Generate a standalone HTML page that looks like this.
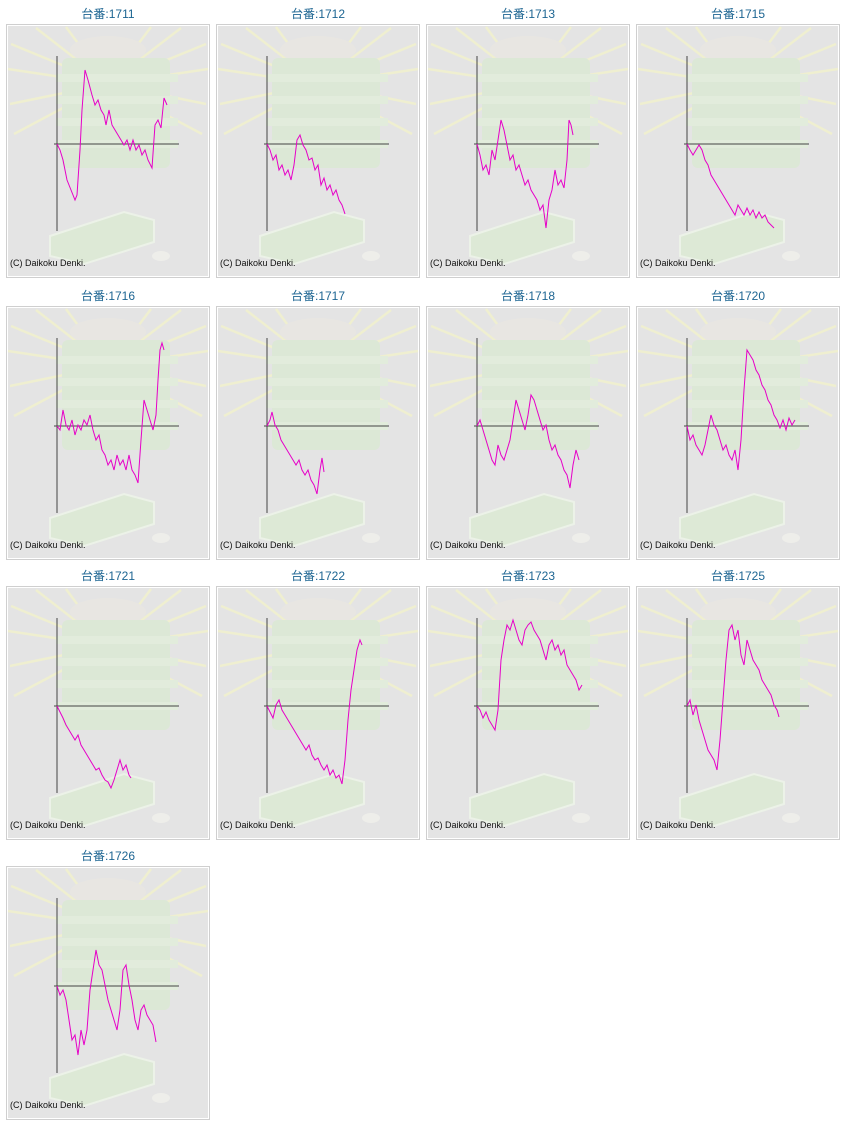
<!DOCTYPE html>
<html><head><meta charset="utf-8"><style>
body{margin:0;background:#fff;width:845px;height:1125px;overflow:hidden}
svg{position:absolute;left:0;top:0}
.t{font-family:"Liberation Sans","Noto Sans CJK JP",sans-serif;font-size:12px;fill:#1d6592}
.c{font-family:"Liberation Sans",sans-serif;font-size:9px;fill:#111}
polyline{fill:none;stroke:#e600c8;stroke-width:1}
</style></head><body>
<svg width="845" height="1125" viewBox="0 0 845 1125">
<defs>
<g id="bg">
<rect x="0.5" y="0.5" width="203" height="253" fill="#fff" stroke="#cfcfcf"/>
<rect x="2" y="2" width="200" height="250" fill="#e4e4e4"/>
<g stroke="#efefd0" stroke-width="2.5">
<line x1="102" y1="60" x2="5" y2="20"/><line x1="102" y1="60" x2="2" y2="45"/><line x1="102" y1="60" x2="4" y2="80"/>
<line x1="102" y1="60" x2="8" y2="110"/><line x1="102" y1="60" x2="30" y2="4"/><line x1="102" y1="60" x2="60" y2="3"/>
<line x1="102" y1="60" x2="200" y2="20"/><line x1="102" y1="60" x2="202" y2="45"/><line x1="102" y1="60" x2="200" y2="80"/>
<line x1="102" y1="60" x2="196" y2="110"/><line x1="102" y1="60" x2="175" y2="4"/><line x1="102" y1="60" x2="145" y2="3"/>
</g>
<ellipse cx="102" cy="26" rx="38" ry="14" fill="#e8e6e2"/>
<rect x="56" y="34" width="108" height="110" rx="6" fill="#dce8d6"/>
<g fill="#e2ecdc"><rect x="50" y="50" width="122" height="8"/><rect x="50" y="72" width="122" height="8"/><rect x="50" y="94" width="122" height="8"/><rect x="50" y="116" width="122" height="8"/></g>
<polygon points="44,212 118,188 148,196 148,218 78,240 44,232" fill="#dde9d6" stroke="#ecf2e8" stroke-width="2"/>
<ellipse cx="155" cy="232" rx="9" ry="5" fill="#eeeeea"/>
<line x1="51" y1="32" x2="51" y2="207" stroke="#444"/>
<line x1="48" y1="120" x2="173" y2="120" stroke="#444"/>
<text class="c" x="4" y="242">(C) Daikoku Denki.</text>
</g>
</defs>
<use href="#bg" x="6" y="24"/><use href="#bg" x="216" y="24"/><use href="#bg" x="426" y="24"/><use href="#bg" x="636" y="24"/>
<use href="#bg" x="6" y="306"/><use href="#bg" x="216" y="306"/><use href="#bg" x="426" y="306"/><use href="#bg" x="636" y="306"/>
<use href="#bg" x="6" y="586"/><use href="#bg" x="216" y="586"/><use href="#bg" x="426" y="586"/><use href="#bg" x="636" y="586"/>
<use href="#bg" x="6" y="866"/>
<g text-anchor="middle">
<text class="t" x="108" y="18">台番:1711</text><text class="t" x="318" y="18">台番:1712</text><text class="t" x="528" y="18">台番:1713</text><text class="t" x="738" y="18">台番:1715</text>
<text class="t" x="108" y="300">台番:1716</text><text class="t" x="318" y="300">台番:1717</text><text class="t" x="528" y="300">台番:1718</text><text class="t" x="738" y="300">台番:1720</text>
<text class="t" x="108" y="580">台番:1721</text><text class="t" x="318" y="580">台番:1722</text><text class="t" x="528" y="580">台番:1723</text><text class="t" x="738" y="580">台番:1725</text>
<text class="t" x="108" y="860">台番:1726</text>
</g>
<polyline points="57,144 60,150 63,160 67,180 71,190 75,200 77,195 80,150 82,110 85,70 88,80 92,95 95,105 98,100 101,110 104,115 106,125 109,110 112,125 115,130 118,135 121,140 124,145 127,140 130,150 133,140 136,150 139,145 142,155 145,150 148,160 152,168 155,125 158,120 161,128 164,98 167,105"/>
<polyline points="267,144 270,150 273,160 276,155 279,170 282,165 285,175 288,170 291,180 294,165 297,140 300,135 303,145 306,150 309,160 312,158 315,170 318,165 321,185 324,178 327,190 330,185 333,195 336,190 339,200 342,205 345,214"/>
<polyline points="477,144 480,155 483,170 486,165 489,175 492,150 495,160 498,140 501,120 504,130 507,145 510,160 513,155 516,170 519,165 522,175 525,185 528,180 531,190 534,195 537,200 540,210 543,205 546,228 549,200 552,190 555,170 558,185 561,180 564,188 567,160 569,120 571,125 573,135"/>
<polyline points="687,144 690,150 693,155 696,150 699,145 702,150 705,160 708,165 711,175 714,180 717,185 720,190 723,195 726,200 729,205 732,210 735,215 738,205 741,210 744,215 747,208 750,215 753,210 756,218 759,212 762,218 765,215 768,222 771,225 774,228"/>
<polyline points="57,426 60,430 63,410 66,425 69,430 72,420 75,435 78,425 81,430 84,420 87,425 90,415 93,430 96,440 99,435 102,450 105,455 108,465 111,460 114,470 117,455 120,465 123,460 126,470 129,455 132,470 135,475 138,483 141,440 144,400 147,410 150,420 153,430 156,415 158,380 160,350 162,343 164,350"/>
<polyline points="267,426 270,420 272,412 275,425 278,430 281,440 284,445 287,450 290,455 293,460 296,465 299,460 302,470 305,475 308,470 311,480 314,485 317,494 320,470 322,458 324,472"/>
<polyline points="477,426 480,420 483,430 486,440 489,450 492,460 495,465 498,445 501,455 504,460 507,450 510,440 513,420 516,400 519,410 522,420 525,430 528,415 531,395 534,400 537,410 540,420 543,430 546,425 549,440 552,450 555,445 558,455 561,460 564,470 567,475 570,488 573,465 576,450 579,460"/>
<polyline points="687,426 690,440 693,435 696,445 699,450 702,455 705,445 708,430 711,415 714,425 717,430 720,440 723,450 726,445 729,455 732,460 735,450 738,470 741,440 744,390 747,350 750,355 753,360 756,370 759,375 762,385 765,390 768,400 771,405 774,415 777,420 780,428 783,420 786,430 789,418 792,425 795,420"/>
<polyline points="57,706 60,712 63,718 66,725 69,730 72,735 75,740 78,735 81,745 84,750 87,755 90,760 93,765 96,770 99,768 102,775 105,780 108,782 111,788 114,780 117,770 120,760 123,770 126,765 129,775 131,778"/>
<polyline points="267,706 270,712 273,718 276,705 279,700 282,710 285,715 288,720 291,725 294,730 297,735 300,740 303,745 306,750 309,745 312,755 315,760 318,758 321,765 324,770 327,765 330,775 333,770 336,778 339,775 342,784 345,760 348,720 351,690 354,670 357,650 360,640 362,645"/>
<polyline points="477,706 480,710 483,718 486,712 489,720 492,725 495,730 498,710 501,660 504,640 507,625 510,630 513,620 516,630 519,640 522,645 525,630 528,625 531,622 534,630 537,635 540,640 543,650 546,660 549,645 552,640 555,650 558,645 561,655 564,650 567,665 570,670 573,675 576,680 579,690 582,685"/>
<polyline points="687,706 690,700 693,715 696,705 699,720 702,730 705,740 708,750 711,755 714,760 717,770 720,740 723,700 726,660 729,630 732,625 735,640 738,630 741,655 744,665 747,640 750,650 753,660 756,665 759,670 762,680 765,685 768,690 771,695 774,705 777,710 779,717"/>
<polyline points="57,986 60,995 63,990 66,1000 69,1020 72,1040 75,1035 78,1055 81,1030 84,1045 87,1030 90,990 93,970 96,950 99,965 102,970 105,985 108,1000 111,1010 114,1020 117,1030 120,1010 123,970 126,965 129,985 132,1000 135,1020 138,1030 141,1010 144,1005 147,1015 150,1020 153,1025 156,1042"/>
</svg>
</body></html>
